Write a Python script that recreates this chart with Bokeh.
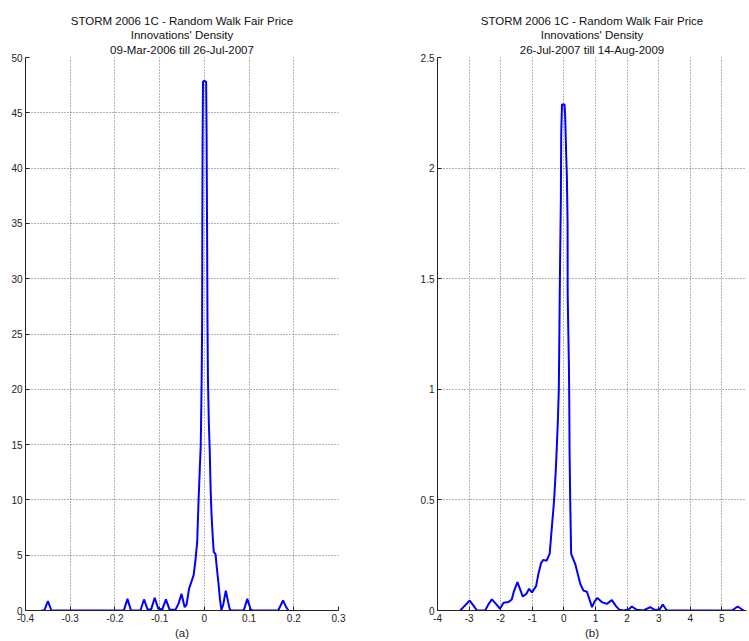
from bokeh.plotting import figure
from bokeh.models import Range1d, FixedTicker, Title
from bokeh.layouts import row
from bokeh.embed import file_html
from bokeh.resources import INLINE

# ---- data: panel (a) ----
a_x = [-0.365, -0.358, -0.350, -0.342, -0.180, -0.172, -0.164, -0.143, -0.135, -0.127,
       -0.119, -0.111, -0.103, -0.094, -0.086, -0.078, -0.065, -0.058, -0.051, -0.044,
       -0.040, -0.034, -0.029, -0.024, -0.020, -0.016, -0.013, -0.010, -0.008, -0.006,
       -0.005, -0.0045, -0.004, -0.003, 0.000, 0.004, 0.005, 0.006, 0.007, 0.008,
       0.010, 0.012, 0.014, 0.016, 0.019, 0.021, 0.025, 0.028, 0.031, 0.035,
       0.038, 0.042, 0.048, 0.053, 0.057, 0.060, 0.088, 0.096, 0.104, 0.110,
       0.165, 0.176, 0.183, 0.188]
a_y = [0.0, 0.0, 0.85, 0.0, 0.0, 1.05, 0.0, 0.0, 1.0, 0.1,
       0.1, 1.15, 0.15, 0.1, 1.0, 0.1, 0.05, 0.6, 1.5, 0.3,
       0.5, 2.0, 2.6, 3.2, 4.5, 6.2, 9.9, 13.0, 15.0, 21.0,
       26.0, 35.0, 42.0, 47.8, 47.9, 47.8, 43.0, 35.0, 26.0, 21.0,
       17.0, 14.5, 11.0, 8.7, 6.5, 5.3, 5.1, 3.8, 2.7, 1.0,
       0.05, 0.5, 1.8, 0.8, 0.1, 0.0, 0.0, 1.05, 0.05, 0.0,
       0.0, 0.9, 0.3, 0.0]

# ---- data: panel (b) ----
b_x = [-3.28, -3.15, -2.98, -2.85, -2.75, -2.49, -2.38, -2.28, -2.15, -2.02,
       -1.91, -1.75, -1.65, -1.59, -1.47, -1.30, -1.19, -1.10, -1.01, -0.88,
       -0.80, -0.72, -0.65, -0.55, -0.45, -0.38, -0.31, -0.25, -0.19, -0.16,
       -0.14, -0.12, -0.095, -0.085, -0.06, 0.02, 0.04, 0.075, 0.095, 0.117,
       0.12, 0.16, 0.17, 0.18, 0.20, 0.23, 0.36, 0.52, 0.62, 0.73,
       0.89, 0.97, 1.06, 1.20, 1.36, 1.52, 1.65, 1.76, 1.89, 2.05,
       2.15, 2.31, 2.52, 2.73, 2.89, 3.03, 3.13, 3.26, 5.32, 5.50, 5.69]
b_y = [0.0, 0.02, 0.045, 0.02, 0.0, 0.0, 0.03, 0.05, 0.03, 0.008,
       0.035, 0.038, 0.05, 0.083, 0.128, 0.063, 0.075, 0.098, 0.082, 0.11,
       0.17, 0.215, 0.229, 0.225, 0.256, 0.377, 0.497, 0.648, 0.86, 1.0,
       1.29, 1.575, 1.861, 2.147, 2.288, 2.288, 2.238, 2.05, 1.96, 1.755,
       1.43, 1.1, 0.95, 0.72, 0.5, 0.256, 0.21, 0.12, 0.09, 0.085,
       0.015, 0.04, 0.057, 0.038, 0.03, 0.047, 0.02, 0.003, 0.0, 0.005,
       0.018, 0.003, 0.0, 0.015, 0.002, 0.005, 0.027, 0.0, 0.0, 0.018, 0.0]

# ---- ticks / labels ----
a_xticks = [-0.4, -0.3, -0.2, -0.1, 0.0, 0.1, 0.2, 0.3]
a_xtick_labels = ["-0.4", "-0.3", "-0.2", "-0.1", "0", "0.1", "0.2", "0.3"]
a_yticks = [0, 5, 10, 15, 20, 25, 30, 35, 40, 45, 50]
a_ytick_labels = ["0", "5", "10", "15", "20", "25", "30", "35", "40", "45", "50"]
b_xticks = [-4, -3, -2, -1, 0, 1, 2, 3, 4, 5, 6]
b_xtick_labels = ["-4", "-3", "-2", "-1", "0", "1", "2", "3", "4", "5", "6"]
b_yticks = [0, 0.5, 1.0, 1.5, 2.0, 2.5]
b_ytick_labels = ["0", "0.5", "1", "1.5", "2", "2.5"]

title_line1 = "STORM 2006 1C - Random Walk Fair Price"
title_line2 = "Innovations' Density"
a_title3 = "09-Mar-2006 till 26-Jul-2007"
b_title3 = "26-Jul-2007 till 14-Aug-2009"

FONT = "Liberation Sans"


def make_panel(xs, ys, xr, yr, xt, xtl, yt, ytl, t3, xlabel, fw, bl, br):
    p = figure(frame_width=fw, frame_height=553, x_range=Range1d(*xr), y_range=Range1d(*yr),
               output_backend="svg", toolbar_location=None, title=None,
               min_border_left=bl, min_border_right=br, min_border_top=57, min_border_bottom=0)
    p.outline_line_color = None
    p.background_fill_color = "white"
    p.border_fill_color = "white"
    for i, line in enumerate([t3, title_line2, title_line1]):
        p.add_layout(Title(text=line, align="center", text_font=FONT, text_font_size="11.5px",
                           text_font_style="normal", text_color="#111111",
                           standoff=3 if i == 0 else 0), "above")
    p.line(xs, ys, line_color="#0000FF", line_width=2)
    for ax, ticks, labels in [(p.xaxis[0], xt, xtl), (p.yaxis[0], yt, ytl)]:
        ax.ticker = FixedTicker(ticks=ticks)
        ax.major_label_overrides = {t: l for t, l in zip(ticks, labels)}
        ax.major_tick_in = 4
        ax.major_tick_out = 0
        ax.minor_tick_in = 0
        ax.minor_tick_out = 0
        ax.axis_line_color = "#222222"
        ax.major_tick_line_color = "#222222"
        ax.major_label_text_font = FONT
        ax.major_label_text_font_size = "10px"
        ax.major_label_text_color = "#222222"
        ax.major_label_standoff = 3
    p.xaxis.axis_label = xlabel
    p.xaxis.axis_label_text_font = FONT
    p.xaxis.axis_label_text_font_size = "11.5px"
    p.xaxis.axis_label_text_font_style = "normal"
    p.xaxis.axis_label_text_color = "#222222"
    p.xaxis.axis_label_standoff = 2
    p.xgrid.ticker = FixedTicker(ticks=xt)
    p.ygrid.ticker = FixedTicker(ticks=yt)
    for g in (p.xgrid, p.ygrid):
        g.grid_line_color = "#666666"
        g.grid_line_dash = "1 2"
        g.grid_line_width = 1
    return p


pa = make_panel(a_x, a_y, (-0.4, 0.3), (0, 50), a_xticks, a_xtick_labels, a_yticks, a_ytick_labels,
                a_title3, "(a)", 313, 25, 67)
pb = make_panel(b_x, b_y, (-4, 5.78), (0, 2.5), b_xticks, b_xtick_labels, b_yticks, b_ytick_labels,
                b_title3, "(b)", 309, 32, 2)

layout = row(pa, pb)
open("out.html", "w").write(file_html(layout, INLINE))
